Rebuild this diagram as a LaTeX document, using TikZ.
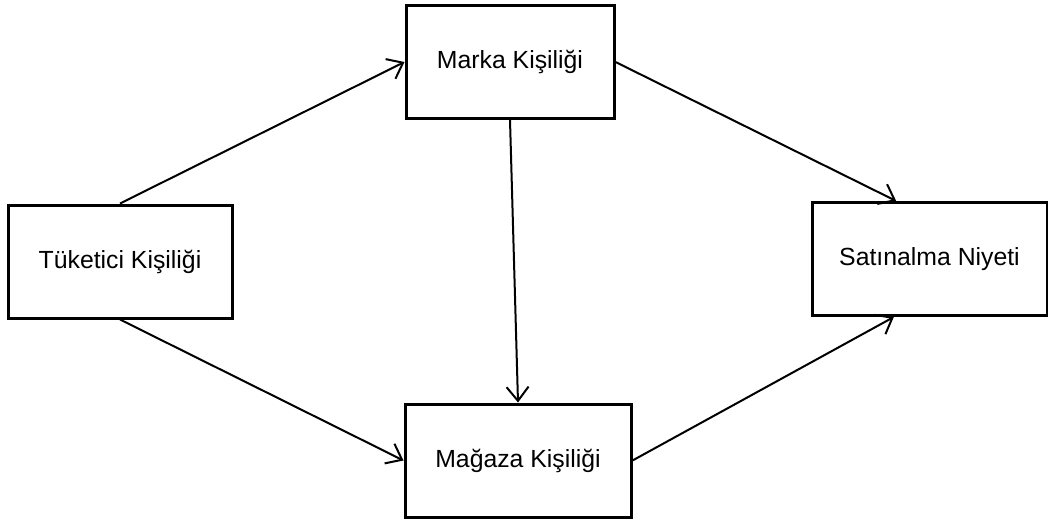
\documentclass[tikz,border=0pt]{standalone}
\usepackage{fontspec}
\setmainfont{Liberation Sans}
\usetikzlibrary{calc,arrows.meta}

\begin{document}
\begin{tikzpicture}[x=0.5pt, y=-0.5pt,
    box/.style={draw, line width=1.5pt, minimum height=56.5pt, inner sep=0pt,
    font=\fontsize{12.4}{15}\selectfont},
    >={Straight Barb[length=7pt,width=11pt]}, link/.style={->, line width=1pt}]

  \useasboundingbox (0,0) rectangle (1048,520);

  \node[box,minimum width=112pt] (T) at (120,261.5) {Tüketici Kişiliği};
  \node[box,minimum width=104pt] (M) at (510,62) {Marka Kişiliği};
  \node[box,minimum width=113pt] (G) at (518,460.5) {Mağaza Kişiliği};
  \node[box,minimum width=117.5pt] (S) at (929.5,259) {Satınalma Niyeti};

  \draw[link] (T.north) -- (M.west);
  \draw[link] (T.south) -- (G.west);
  \draw[link] (M.east) -- ($(S.north west)!0.36!(S.north east)$);
  \draw[link] (G.east) -- ($(S.south west)!0.35!(S.south east)$);
  \draw[link] (M.south) -- (G.north);

\end{tikzpicture}
\end{document}
